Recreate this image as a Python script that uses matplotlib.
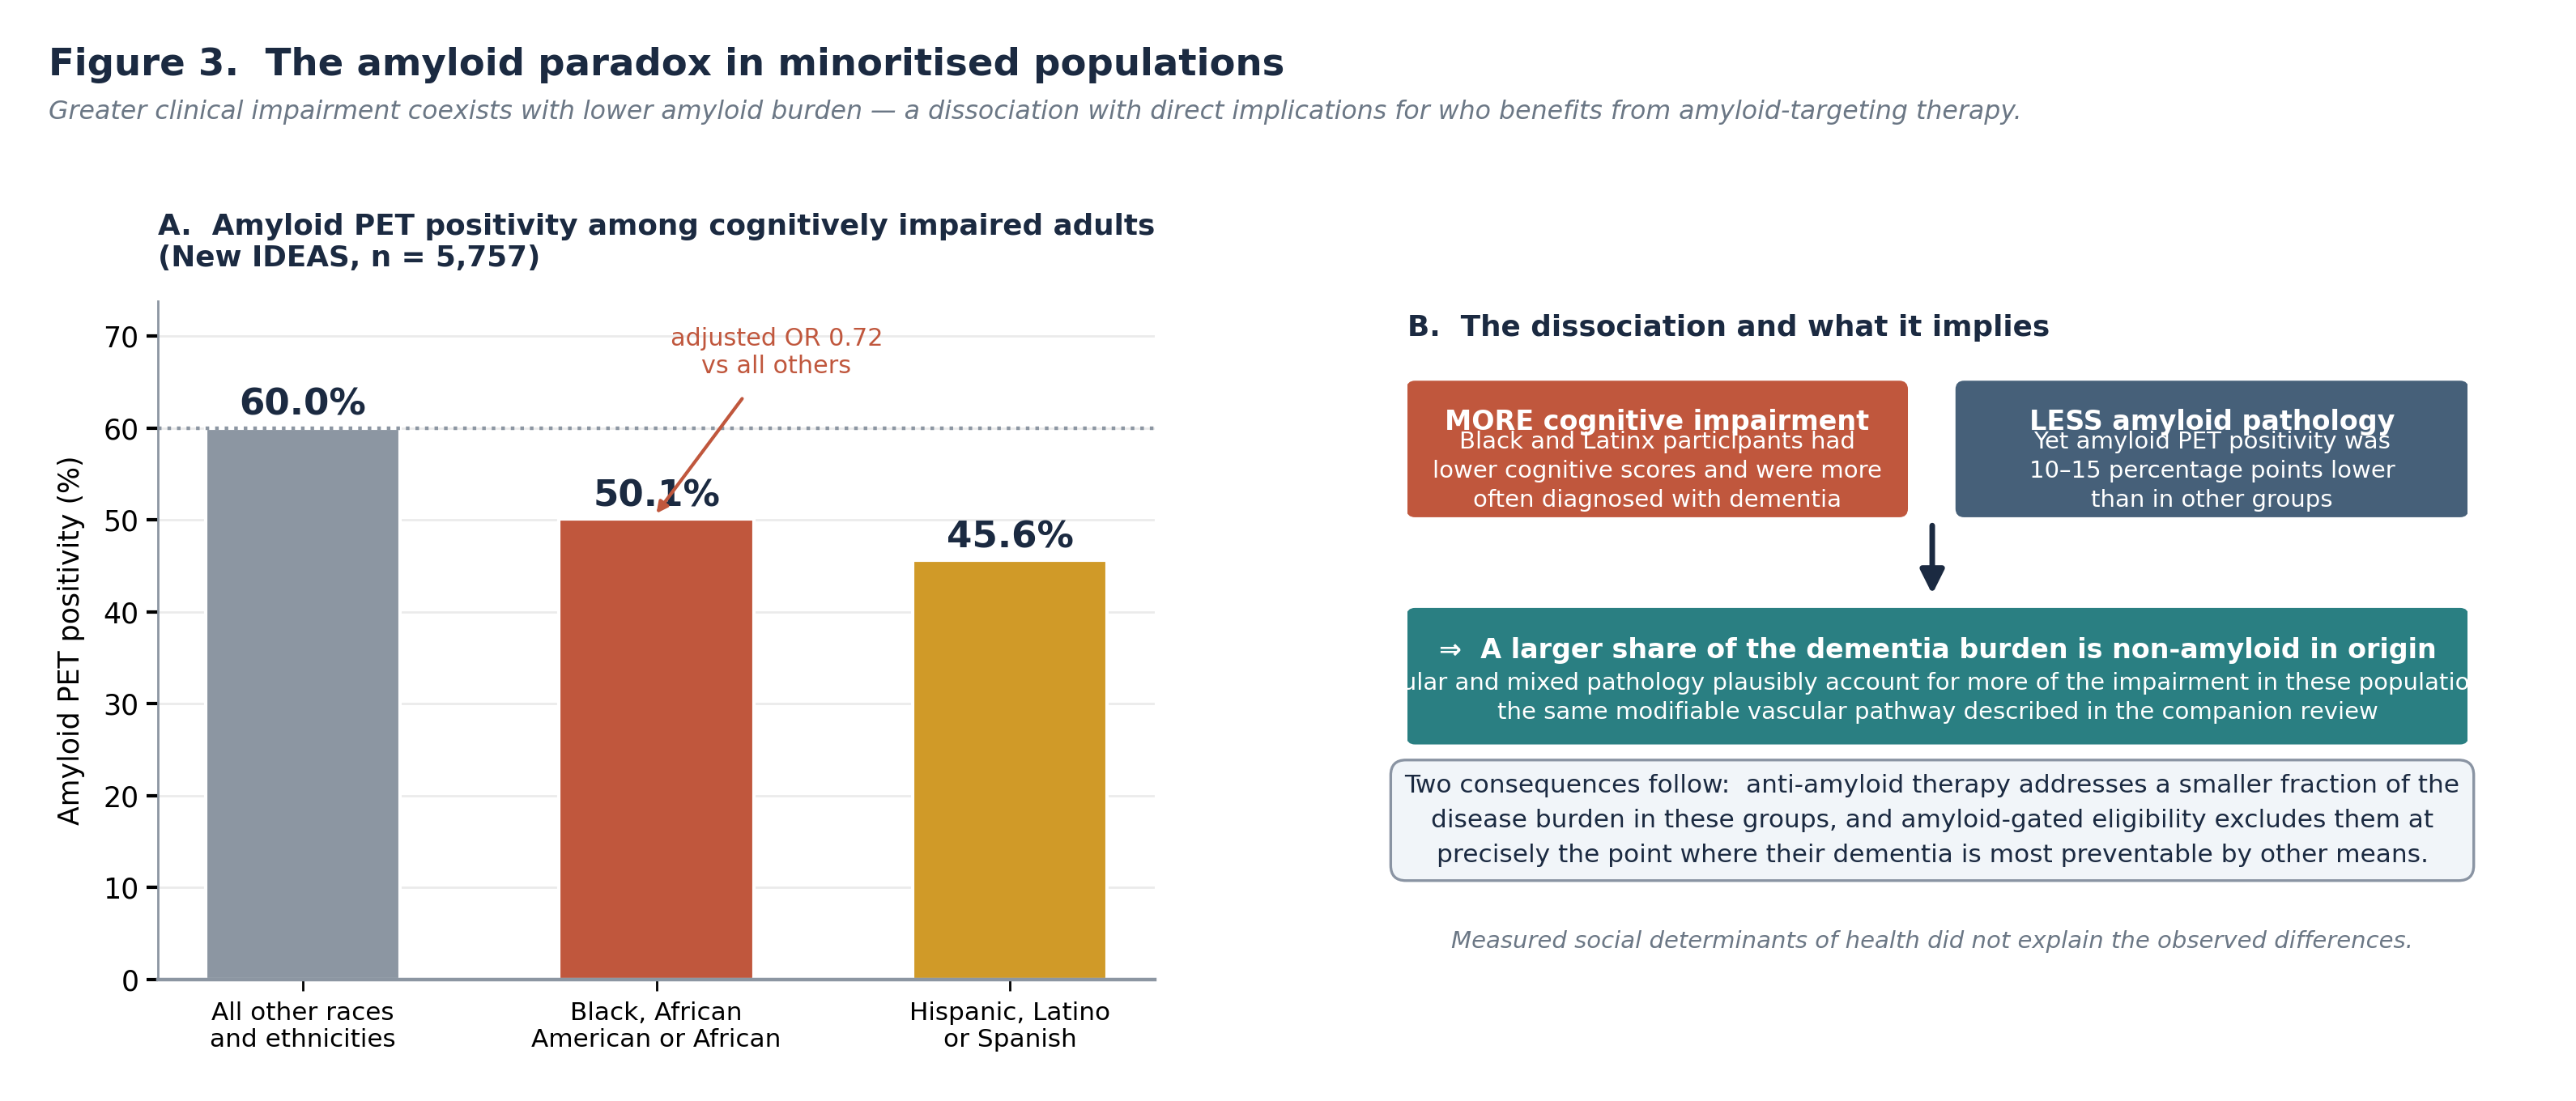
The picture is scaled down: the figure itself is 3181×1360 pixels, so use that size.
import matplotlib
matplotlib.use("Agg")
import matplotlib.pyplot as plt
from matplotlib.patches import FancyBboxPatch

plt.rcParams['font.family'] = ['DejaVu Sans']

# ---- data ----
categories = ["All other races\nand ethnicities", "Black, African\nAmerican or African", "Hispanic, Latino\nor Spanish"]
values = [60.0, 50.1, 45.6]
bar_colors = ["#8c96a2", "#c0573d", "#d09a28"]
yticks = [0, 10, 20, 30, 40, 50, 60, 70]
reference_line = 60.0
odds_text = "adjusted OR 0.72\nvs all others"

NAVY = "#1b2a41"
GREY_TXT = "#6b7785"
ORANGE = "#c0573d"
SLATE = "#466079"
TEAL = "#2a7f82"

fig = plt.figure(figsize=(15.905, 6.8), dpi=200)

fig.text(0.0189, 0.941, "Figure 3.  The amyloid paradox in minoritised populations",
         fontsize=16.8, fontweight="bold", color=NAVY, ha="left", va="center")
fig.text(0.0189, 0.898, "Greater clinical impairment coexists with lower amyloid burden \u2014 a dissociation with direct implications for who benefits from amyloid-targeting therapy.",
         fontsize=11.4, style="italic", color=GREY_TXT, ha="left", va="center")

# ---- Panel A ----
ax = fig.add_axes([0.0613, 0.1105, 0.3870, 0.616])
x = list(range(len(values)))
ax.set_axisbelow(True)
ax.yaxis.grid(True, color="#ebebeb", linewidth=1.0)
ax.bar(x, values, width=0.55, color=bar_colors, edgecolor="white", linewidth=1.5, zorder=2)
ax.axhline(reference_line, color="#8c96a2", linestyle=":", linewidth=1.6, zorder=3)
for xi, v in zip(x, values):
    ax.text(xi, v + 0.6, f"{v:.1f}%", ha="center", va="bottom", fontsize=16.3,
            fontweight="bold", color=NAVY, zorder=4)
ax.annotate(odds_text, xy=(1.0, values[1] + 0.6), xytext=(1.34, 68.2),
            ha="center", va="center", fontsize=10.9, color=ORANGE,
            arrowprops=dict(arrowstyle="-|>", color=ORANGE, lw=1.5, mutation_scale=10,
                            shrinkA=9, shrinkB=0), zorder=5)
ax.set_xlim(-0.41, 2.41)
ax.set_ylim(0, 73.8)
ax.set_yticks(yticks)
ax.set_xticks(x)
ax.set_xticklabels(categories, fontsize=11.2, linespacing=1.15)
ax.tick_params(axis="y", labelsize=12.5, length=5, width=1.5)
ax.tick_params(axis="x", length=5, width=1.0, pad=5)
ax.set_ylabel("Amyloid PET positivity (%)", fontsize=12.5, labelpad=8)
for s in ["top", "right"]:
    ax.spines[s].set_visible(False)
for s in ["left", "bottom"]:
    ax.spines[s].set_color("#8c96a2")
ax.spines["left"].set_linewidth(1.0)
ax.spines["bottom"].set_linewidth(1.6)
ax.set_title("A.  Amyloid PET positivity among cognitively impaired adults\n(New IDEAS, n = 5,757)",
             loc="left", fontsize=12.9, fontweight="bold", color=NAVY, pad=15.5, linespacing=1.2)

# ---- Panel B ----
bx = fig.add_axes([0.5464, 0.1105, 0.4115, 0.616])
bx.set_xlim(0, 1)
bx.set_ylim(0, 1)
bx.axis("off")

bx.text(0.0, 0.961, "B.  The dissociation and what it implies", fontsize=12.9,
        fontweight="bold", color=NAVY, ha="left", va="center")

def box(x0, y0, w, h, fc):
    p = FancyBboxPatch((x0, y0), w, h, boxstyle="round,pad=0,rounding_size=0.007",
                       mutation_aspect=1.56, facecolor=fc, edgecolor=fc, linewidth=1,
                       zorder=1)
    bx.add_patch(p)

box(0.0, 0.683, 0.471, 0.198, ORANGE)
box(0.518, 0.683, 0.482, 0.198, SLATE)
box(0.0, 0.348, 1.0, 0.198, TEAL)

bx.text(0.2355, 0.821, "MORE cognitive impairment", fontsize=12, fontweight="bold",
        color="white", ha="center", va="center", zorder=3)
bx.text(0.2355, 0.749, "Black and Latinx participants had\nlower cognitive scores and were more\noften diagnosed with dementia",
        fontsize=10.5, color="white", ha="center", va="center", linespacing=1.36, zorder=3)
bx.text(0.759, 0.821, "LESS amyloid pathology", fontsize=12, fontweight="bold",
        color="white", ha="center", va="center", zorder=3)
bx.text(0.759, 0.749, "Yet amyloid PET positivity was\n10\u201315 percentage points lower\nthan in other groups",
        fontsize=10.5, color="white", ha="center", va="center", linespacing=1.36, zorder=3)

bx.annotate("", xy=(0.495, 0.568), xytext=(0.495, 0.669),
            arrowprops=dict(arrowstyle="-|>", color=NAVY, lw=2.5, mutation_scale=22,
                            shrinkA=0, shrinkB=0))

bx.text(0.5, 0.4845, "\u21d2  A larger share of the dementia burden is non-amyloid in origin",
        fontsize=12, fontweight="bold", color="white", ha="center", va="center", zorder=3)
bx.text(0.5, 0.4155, "Vascular and mixed pathology plausibly account for more of the impairment in these populations \u2014\nthe same modifiable vascular pathway described in the companion review",
        fontsize=10.5, color="white", ha="center", va="center", linespacing=1.36, zorder=3,
        clip_on=True)

bx.text(0.495, 0.2345, "Two consequences follow:  anti-amyloid therapy addresses a smaller fraction of the\ndisease burden in these groups, and amyloid-gated eligibility excludes them at\nprecisely the point where their dementia is most preventable by other means.",
        fontsize=11.25, color=NAVY, ha="center", va="center", linespacing=1.6, zorder=3,
        bbox=dict(boxstyle="round,pad=0.55,rounding_size=0.6", facecolor="#f1f5f9",
                  edgecolor="#8a94a3", linewidth=1.2))

bx.text(0.495, 0.056, "Measured social determinants of health did not explain the observed differences.",
        fontsize=10.5, style="italic", color=GREY_TXT, ha="center", va="center")

fig.savefig("out.png", dpi=200)
